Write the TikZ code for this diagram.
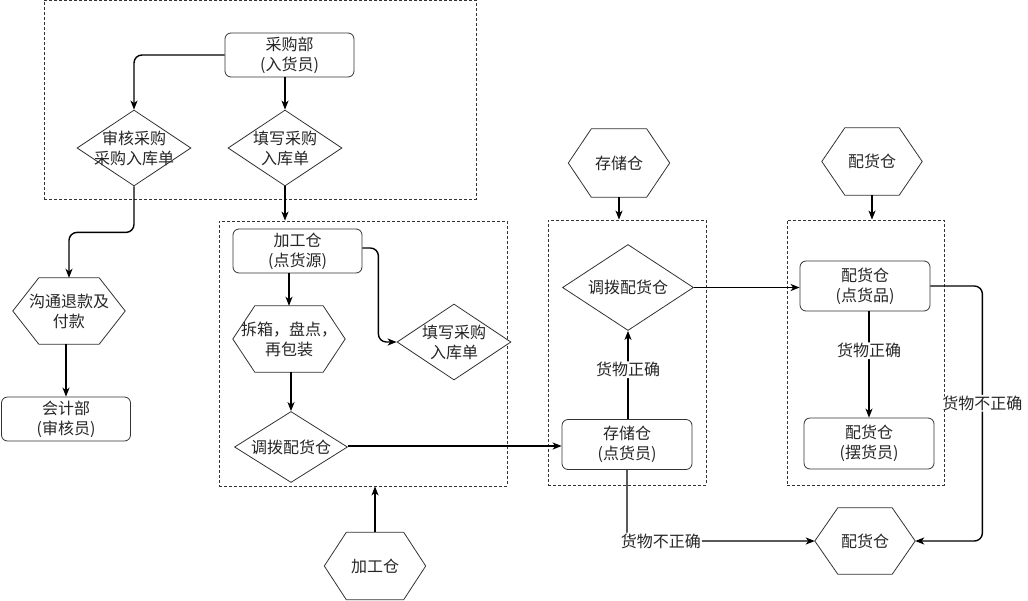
\documentclass[tikz,border=0pt]{standalone}
\usepackage{fontspec}
\setmainfont{Noto Sans CJK SC}
\usetikzlibrary{shapes.geometric,arrows.meta,calc}
\newcommand\hexdraw[2]{\draw[hexline] (#1.west) -- ([xshift=#2]#1.north west) -- ([xshift=-#2]#1.north east) -- (#1.east) -- ([xshift=-#2]#1.south east) -- ([xshift=#2]#1.south west) -- cycle;}
\begin{document}
\begin{tikzpicture}[x=1pt,y=-1pt,
  every node/.style={font=\fontsize{16}{20}\selectfont, text=black!85},
  rbox/.style={draw=black!80, line width=0.8pt, rounded corners=6pt, fill=white, minimum width=129pt, minimum height=44pt, inner sep=0pt, align=center},
  dia/.style={draw=black!80, line width=0.8pt, diamond, fill=white, inner sep=0pt, minimum width=114pt, minimum height=76pt},
  hexbox/.style={rectangle, inner sep=0pt, align=center, minimum width=101pt, minimum height=67pt},
  hexline/.style={draw=black!80, line width=0.8pt},
  grp/.style={draw=black!80, line width=0.8pt, dash pattern=on 3pt off 2pt, rectangle, inner sep=0pt},
  arr/.style={draw=black, line width=1.4pt, -{Stealth[length=9pt,width=7pt,inset=2.5pt]}, rounded corners=8pt},
  lab/.style={fill=white, inner sep=1pt}
]
\useasboundingbox (0,0) rectangle (1028,600);

% group boxes
\node[grp, minimum width=432pt, minimum height=199pt] (g1) at (260,99.5) {};
\node[grp, minimum width=288pt, minimum height=265pt] (g2) at (363,353.5) {};
\node[grp, minimum width=158pt, minimum height=265pt] (g3) at (627,352.5) {};
\node[grp, minimum width=157pt, minimum height=265pt] (g4) at (865.5,352.5) {};

% purchase area
\node[rbox] (caigou) at (289.5,55) {采购部\\(入货员)};
\node[dia, label={[align=center]center:审核采购\\采购入库单}] (shenhe) at (134,148) {};
\node[dia, label={[align=center]center:填写采购\\入库单}] (tianxie1) at (285,148) {};

% left side
\node[hexbox, minimum width=112pt, minimum height=66pt] (goutong) at (69,311) {沟通退款及\\付款};
\node[rbox] (kuaiji) at (66,419) {会计部\\(审核员)};

% processing warehouse
\node[rbox] (jiagong) at (297.5,251) {加工仓\\(点货源)};
\node[hexbox, minimum width=112pt, minimum height=66pt] (chaixiang) at (289,339) {拆箱，盘点，\\再包装};
\node[dia, minimum width=113pt, minimum height=71pt, label={center:调拨配货仓}] (diaobo1) at (291,447) {};
\node[dia, label={[align=center]center:填写采购\\入库单}] (tianxie2) at (454,342) {};
\node[hexbox] (hexjiagong) at (375,566) {加工仓};

% storage warehouse
\node[hexbox, minimum height=68pt] (hexcunchu) at (619,163) {存储仓};
\node[dia, minimum width=131pt, minimum height=86pt, label={center:调拨配货仓}] (diaobo2) at (628,287.5) {};
\node[rbox, minimum width=130pt, minimum height=50pt] (cunchu) at (627,444.5) {存储仓\\(点货员)};

% distribution warehouse
\node[hexbox, minimum width=100pt] (hexpeihuo) at (872,161.5) {配货仓};
\node[rbox, minimum width=130pt, minimum height=50pt] (dianhuopin) at (865,286) {配货仓\\(点货品)};
\node[rbox, minimum width=130pt, minimum height=51pt] (baihuo) at (869,443.5) {配货仓\\(摆货员)};
\node[hexbox, minimum width=100pt, minimum height=66pt] (hexbot) at (865,541) {配货仓};

% hexagon outlines
\hexdraw{goutong}{26}
\hexdraw{chaixiang}{22}
\hexdraw{hexjiagong}{22}
\hexdraw{hexcunchu}{23}
\hexdraw{hexpeihuo}{23}
\hexdraw{hexbot}{23}

% connectors
\draw[arr] (caigou.west) -| (shenhe.north);
\draw[arr] (tianxie1.north |- caigou.south) -- (tianxie1.north);
\draw[arr] (tianxie1.south) -- (tianxie1.south |- g2.north);
\draw[arr] (shenhe.south) -- ++(0,46) -| (goutong.north);
\draw[arr] (goutong.south -| kuaiji.north) -- (kuaiji.north);
\draw[arr] (jiagong.south -| chaixiang.north) -- (chaixiang.north);
\draw[arr] ([yshift=3pt]jiagong.east) -- ++(16,0) |- (tianxie2.west);
\draw[arr] (chaixiang.south -| diaobo1.north) -- (diaobo1.north);
\draw[arr] ([yshift=1pt]diaobo1.east) -- ([yshift=1pt]diaobo1.east -| cunchu.west);
\draw[arr] (hexjiagong.north) -- (hexjiagong.north |- g2.south);
\draw[arr] (hexcunchu.south) -- (hexcunchu.south |- g3.north);
\draw[arr] (diaobo2.south |- cunchu.north) -- (diaobo2.south) node[lab, pos=0.56] {货物正确};
\draw[arr] (diaobo2.east) -- (diaobo2.east -| dianhuopin.west);
\draw[arr] (hexpeihuo.south) -- (hexpeihuo.south |- g4.north);
\draw[arr] (baihuo.north |- dianhuopin.south) -- (baihuo.north) node[lab, pos=0.37] {货物正确};
\draw[arr] (dianhuopin.east) -- ++(52,0) |- (hexbot.east) node[lab, pos=0.23] {货物不正确};
\draw[arr] (cunchu.south) |- (hexbot.west) node[lab, pos=0.59] {货物不正确};
\end{tikzpicture}
\end{document}
